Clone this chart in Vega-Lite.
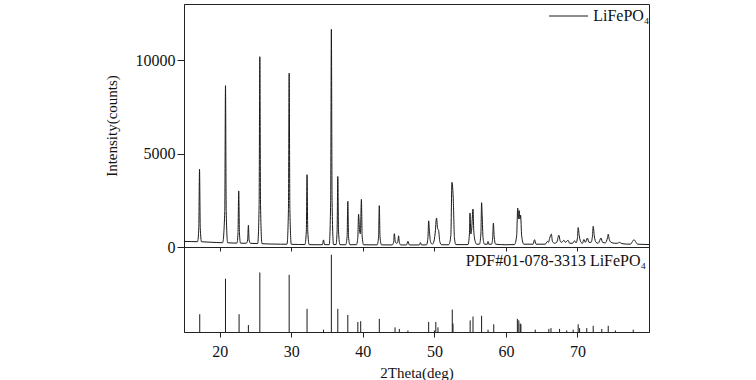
{
  "$schema": "https://vega.github.io/schema/vega-lite/v6.json",
  "background": "white",
  "padding": {"left": 103, "top": 3, "right": 5, "bottom": 0},
  "spacing": 0,
  "bounds": "flush",
  "config": {
    "font": "Liberation Serif",
    "view": {"stroke": "#222", "strokeWidth": 1},
    "axis": {
      "labelFont": "Liberation Serif",
      "titleFont": "Liberation Serif",
      "labelFontSize": 16,
      "titleFontSize": 15,
      "titleFontWeight": "normal",
      "labelColor": "#111",
      "titleColor": "#111",
      "domainColor": "#222",
      "tickColor": "#222",
      "grid": false
    },
    "legend": {"labelFont": "Liberation Serif"}
  },
  "datasets": {
    "xrd": [
      {"t": 15.0, "c": 300}, {"t": 16.0, "c": 290}, {"t": 16.9, "c": 285},
      {"t": 17.07, "c": 1050}, {"t": 17.17, "c": 4160}, {"t": 17.27, "c": 1050}, {"t": 17.45, "c": 280},
      {"t": 18.5, "c": 260}, {"t": 19.5, "c": 240}, {"t": 20.4, "c": 230},
      {"t": 20.7, "c": 1900}, {"t": 20.8, "c": 8630}, {"t": 20.9, "c": 1900}, {"t": 21.1, "c": 225},
      {"t": 22.0, "c": 210}, {"t": 22.4, "c": 210},
      {"t": 22.55, "c": 760}, {"t": 22.65, "c": 3000}, {"t": 22.75, "c": 760}, {"t": 22.9, "c": 205},
      {"t": 23.7, "c": 200}, {"t": 23.9, "c": 380}, {"t": 24.0, "c": 1160}, {"t": 24.1, "c": 380}, {"t": 24.3, "c": 195},
      {"t": 25.3, "c": 185}, {"t": 25.5, "c": 2200}, {"t": 25.6, "c": 10180}, {"t": 25.7, "c": 2200}, {"t": 25.9, "c": 180},
      {"t": 27.0, "c": 160}, {"t": 28.5, "c": 150}, {"t": 29.4, "c": 150},
      {"t": 29.6, "c": 2000}, {"t": 29.7, "c": 9300}, {"t": 29.8, "c": 2000}, {"t": 30.0, "c": 145},
      {"t": 31.0, "c": 135}, {"t": 31.9, "c": 130},
      {"t": 32.1, "c": 850}, {"t": 32.2, "c": 3870}, {"t": 32.3, "c": 850}, {"t": 32.5, "c": 125},
      {"t": 34.0, "c": 120}, {"t": 34.35, "c": 125}, {"t": 34.5, "c": 380}, {"t": 34.65, "c": 125},
      {"t": 35.3, "c": 125}, {"t": 35.5, "c": 2400}, {"t": 35.6, "c": 11650}, {"t": 35.7, "c": 2400}, {"t": 35.9, "c": 130},
      {"t": 36.25, "c": 130}, {"t": 36.4, "c": 850}, {"t": 36.5, "c": 3770}, {"t": 36.6, "c": 850}, {"t": 36.8, "c": 125},
      {"t": 37.6, "c": 120}, {"t": 37.8, "c": 550}, {"t": 37.9, "c": 2450}, {"t": 38.0, "c": 550}, {"t": 38.2, "c": 120},
      {"t": 39.1, "c": 125}, {"t": 39.3, "c": 500}, {"t": 39.4, "c": 1750}, {"t": 39.55, "c": 850}, {"t": 39.65, "c": 700},
      {"t": 39.8, "c": 2550}, {"t": 39.9, "c": 600}, {"t": 40.1, "c": 120},
      {"t": 41.0, "c": 115}, {"t": 42.0, "c": 115},
      {"t": 42.2, "c": 550}, {"t": 42.3, "c": 2210}, {"t": 42.4, "c": 550}, {"t": 42.6, "c": 115},
      {"t": 44.1, "c": 110}, {"t": 44.3, "c": 250}, {"t": 44.4, "c": 710}, {"t": 44.55, "c": 250}, {"t": 44.75, "c": 200},
      {"t": 44.9, "c": 300}, {"t": 45.0, "c": 600}, {"t": 45.1, "c": 250}, {"t": 45.3, "c": 110},
      {"t": 46.1, "c": 110}, {"t": 46.3, "c": 300}, {"t": 46.5, "c": 110},
      {"t": 47.9, "c": 110}, {"t": 48.05, "c": 240}, {"t": 48.2, "c": 110},
      {"t": 48.9, "c": 115}, {"t": 49.1, "c": 500}, {"t": 49.2, "c": 1400}, {"t": 49.3, "c": 900}, {"t": 49.45, "c": 300},
      {"t": 49.7, "c": 150}, {"t": 49.9, "c": 250}, {"t": 50.1, "c": 700}, {"t": 50.3, "c": 1550}, {"t": 50.45, "c": 1000},
      {"t": 50.6, "c": 870}, {"t": 50.75, "c": 300}, {"t": 51.0, "c": 120},
      {"t": 52.0, "c": 120}, {"t": 52.3, "c": 600}, {"t": 52.45, "c": 3460}, {"t": 52.55, "c": 3200}, {"t": 52.65, "c": 2440},
      {"t": 52.8, "c": 500}, {"t": 53.0, "c": 130},
      {"t": 54.0, "c": 125}, {"t": 54.7, "c": 130}, {"t": 54.9, "c": 700}, {"t": 54.98, "c": 1815}, {"t": 55.1, "c": 700},
      {"t": 55.2, "c": 900}, {"t": 55.4, "c": 2030}, {"t": 55.5, "c": 900}, {"t": 55.7, "c": 300}, {"t": 55.9, "c": 150},
      {"t": 56.3, "c": 150}, {"t": 56.5, "c": 700}, {"t": 56.6, "c": 2370}, {"t": 56.68, "c": 1700}, {"t": 56.8, "c": 500}, {"t": 57.0, "c": 150},
      {"t": 57.4, "c": 150}, {"t": 57.5, "c": 300}, {"t": 57.6, "c": 150},
      {"t": 58.0, "c": 150}, {"t": 58.15, "c": 500}, {"t": 58.25, "c": 1280}, {"t": 58.35, "c": 600}, {"t": 58.55, "c": 150},
      {"t": 60.0, "c": 120}, {"t": 61.2, "c": 130}, {"t": 61.5, "c": 600}, {"t": 61.65, "c": 2080}, {"t": 61.75, "c": 1500},
      {"t": 61.85, "c": 1950}, {"t": 61.95, "c": 1500}, {"t": 62.05, "c": 1700}, {"t": 62.2, "c": 600}, {"t": 62.5, "c": 150},
      {"t": 63.8, "c": 150}, {"t": 64.0, "c": 390}, {"t": 64.2, "c": 150},
      {"t": 65.5, "c": 150}, {"t": 65.8, "c": 300}, {"t": 65.95, "c": 250}, {"t": 66.1, "c": 450}, {"t": 66.35, "c": 690},
      {"t": 66.5, "c": 300}, {"t": 66.8, "c": 200},
      {"t": 67.1, "c": 250}, {"t": 67.4, "c": 630}, {"t": 67.6, "c": 300}, {"t": 67.8, "c": 250}, {"t": 68.1, "c": 360},
      {"t": 68.3, "c": 250}, {"t": 68.7, "c": 360}, {"t": 68.9, "c": 200},
      {"t": 69.3, "c": 200}, {"t": 69.6, "c": 330}, {"t": 69.8, "c": 220}, {"t": 70.0, "c": 500}, {"t": 70.1, "c": 1040},
      {"t": 70.25, "c": 600}, {"t": 70.5, "c": 250}, {"t": 70.7, "c": 200}, {"t": 70.9, "c": 400}, {"t": 71.1, "c": 250},
      {"t": 71.4, "c": 480}, {"t": 71.6, "c": 250},
      {"t": 71.9, "c": 250}, {"t": 72.1, "c": 600}, {"t": 72.2, "c": 1110}, {"t": 72.35, "c": 600}, {"t": 72.6, "c": 250},
      {"t": 72.9, "c": 200}, {"t": 73.3, "c": 480}, {"t": 73.5, "c": 250}, {"t": 73.9, "c": 220}, {"t": 74.2, "c": 500},
      {"t": 74.3, "c": 680}, {"t": 74.45, "c": 400}, {"t": 74.7, "c": 250}, {"t": 75.2, "c": 200}, {"t": 75.6, "c": 200},
      {"t": 75.9, "c": 250}, {"t": 76.2, "c": 180},
      {"t": 77.4, "c": 150}, {"t": 77.7, "c": 300}, {"t": 77.9, "c": 390}, {"t": 78.1, "c": 300}, {"t": 78.4, "c": 150},
      {"t": 80.0, "c": 130}
    ],
    "pdf": [
      {"t": 17.2, "i": 23}, {"t": 20.8, "i": 69}, {"t": 22.7, "i": 23}, {"t": 24.0, "i": 9},
      {"t": 25.6, "i": 77}, {"t": 29.7, "i": 74}, {"t": 32.2, "i": 30}, {"t": 34.5, "i": 3},
      {"t": 35.6, "i": 100}, {"t": 36.5, "i": 30}, {"t": 37.9, "i": 22}, {"t": 39.3, "i": 13},
      {"t": 39.7, "i": 14}, {"t": 42.3, "i": 17}, {"t": 44.5, "i": 6}, {"t": 45.1, "i": 4},
      {"t": 46.3, "i": 2}, {"t": 49.2, "i": 13}, {"t": 50.0, "i": 2}, {"t": 50.2, "i": 13},
      {"t": 50.5, "i": 6}, {"t": 52.5, "i": 29}, {"t": 52.6, "i": 11}, {"t": 55.0, "i": 15},
      {"t": 55.4, "i": 20}, {"t": 56.6, "i": 21}, {"t": 57.5, "i": 3}, {"t": 58.3, "i": 10},
      {"t": 61.6, "i": 17}, {"t": 61.8, "i": 15}, {"t": 62.0, "i": 11}, {"t": 62.1, "i": 10},
      {"t": 64.1, "i": 3}, {"t": 66.0, "i": 4}, {"t": 66.3, "i": 5}, {"t": 67.5, "i": 4},
      {"t": 68.5, "i": 2}, {"t": 69.4, "i": 3}, {"t": 70.1, "i": 10}, {"t": 70.3, "i": 5},
      {"t": 71.3, "i": 5}, {"t": 72.2, "i": 8}, {"t": 73.4, "i": 4}, {"t": 74.3, "i": 8},
      {"t": 75.3, "i": 2}, {"t": 77.8, "i": 3}
    ],
    "lbl": [{"t": 79.6, "i": 86, "s": "PDF#01-078-3313 LiFePO₄"}]
  },
  "vconcat": [
    {
      "width": 465,
      "height": 243,
      "data": {"name": "xrd"},
      "mark": {"type": "line", "strokeWidth": 1, "interpolate": "monotone"},
      "encoding": {
        "x": {
          "field": "t", "type": "quantitative",
          "scale": {"domain": [15, 80], "nice": false, "zero": false},
          "axis": {"title": null, "labels": false, "values": [20, 30, 40, 50, 60, 70], "tickSize": 4, "domain": true}
        },
        "y": {
          "field": "c", "type": "quantitative",
          "scale": {"domain": [0, 13000], "nice": false},
          "axis": {"title": "Intensity(counts)", "values": [0, 5000, 10000], "tickSize": 7, "labelPadding": 2, "titlePadding": 16, "format": "d"}
        },
        "color": {
          "datum": "LiFePO₄", "type": "nominal",
          "scale": {"range": ["#1a1a1a"]},
          "legend": {
            "title": null, "orient": "none", "legendX": 376.6, "legendY": 4, "padding": 0,
            "symbolType": "M-4,0H4", "symbolSize": 95, "symbolStrokeWidth": 1, "symbolFillColor": "transparent",
            "labelFontSize": 16, "labelColor": "#111", "labelOffset": 16.6
          }
        }
      }
    },
    {
      "width": 465,
      "height": 85,
      "layer": [
        {
          "data": {"name": "pdf"},
          "mark": {"type": "rule", "strokeWidth": 1, "color": "#1a1a1a"},
          "encoding": {
            "x": {
              "field": "t", "type": "quantitative",
              "scale": {"domain": [15, 80], "nice": false, "zero": false},
              "axis": {"title": "2Theta(deg)", "values": [20, 30, 40, 50, 60, 70], "tickSize": 5, "labelPadding": 6, "titlePadding": 6}
            },
            "y": {
              "field": "i", "type": "quantitative",
              "scale": {"domain": [0, 110], "nice": false},
              "axis": null
            },
            "y2": {"datum": 0}
          }
        },
        {
          "data": {"name": "lbl"},
          "mark": {"type": "text", "align": "right", "baseline": "alphabetic", "fontSize": 16, "font": "Liberation Serif", "color": "#111"},
          "encoding": {
            "x": {"field": "t", "type": "quantitative"},
            "y": {"field": "i", "type": "quantitative"},
            "text": {"field": "s"}
          }
        }
      ]
    }
  ]
}
